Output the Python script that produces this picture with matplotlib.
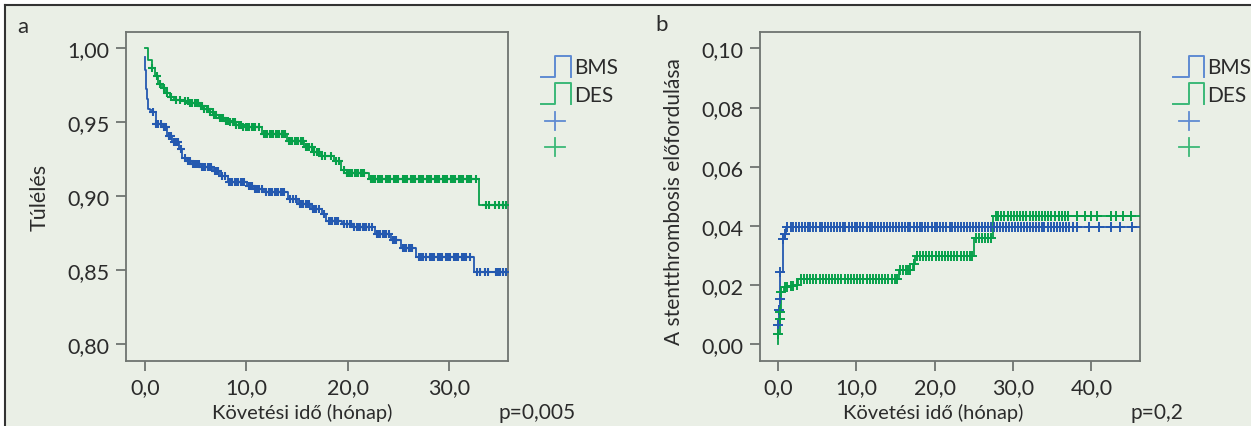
import numpy as np
import matplotlib.pyplot as plt
from matplotlib.lines import Line2D
from matplotlib.patches import Rectangle
from matplotlib.ticker import FuncFormatter

plt.rcParams['font.family'] = ['Lato', 'DejaVu Sans']

# ---- panel a: survival (Kaplan-Meier) ----
bms_a_t = [0, 0.05, 0.1, 0.2, 0.3, 0.5, 0.75, 1.05, 1.7, 2.2, 2.7, 3.4, 3.7, 4.1, 4.5,
           5.4, 6.7, 7.4, 8.2, 10.1, 10.7, 11.7, 14.1, 15.1, 16.4, 17.5, 17.9, 19.4,
           20.4, 22.7, 24.3, 25.2, 26.7, 32.4]
bms_a_s = [0.994, 0.985, 0.9725, 0.966, 0.959, 0.958, 0.9567, 0.9488, 0.9466, 0.941,
           0.9364, 0.932, 0.926, 0.924, 0.9217, 0.9195, 0.917, 0.9138, 0.9093, 0.907,
           0.9048, 0.9026, 0.898, 0.8947, 0.8913, 0.888, 0.8834, 0.881, 0.879, 0.8744,
           0.8705, 0.865, 0.859, 0.8484]
des_a_t = [0, 0.3, 0.66, 1.0, 1.3, 1.7, 2.1, 2.5, 2.9, 3.7, 4.4, 5.3, 5.8, 6.3, 6.8,
           7.3, 7.8, 8.3, 9.0, 9.6, 11.5, 14.0, 15.7, 16.5, 17.3, 18.6, 19.3, 19.9,
           22.1, 32.9]
des_a_s = [1.000, 0.992, 0.9865, 0.981, 0.976, 0.973, 0.970, 0.967, 0.965, 0.964,
           0.963, 0.961, 0.959, 0.957, 0.955, 0.953, 0.951, 0.950, 0.948, 0.9466,
           0.942, 0.9375, 0.933, 0.930, 0.927, 0.924, 0.918, 0.9156, 0.9116, 0.894]
bms_a_cens = [0.8, 1.1, 1.3, 1.6, 1.9, 2.1, 2.4, 2.6, 2.9, 3.1, 3.3, 3.6, 3.9, 4.2, 4.4,
              4.7, 5.0, 5.3, 5.6, 5.9, 6.2, 6.5, 6.9, 7.2, 7.6, 7.9, 8.3, 8.6, 8.9, 9.2,
              9.5, 9.8, 10.3, 10.6, 10.9, 11.2, 11.5, 11.9, 12.2, 12.5, 12.8, 13.1, 13.4,
              13.7, 14.3, 14.6, 14.9, 15.3, 15.6, 15.9, 16.2, 16.6, 16.9, 17.2, 17.7,
              18.1, 18.4, 18.7, 19.0, 19.6, 19.9, 20.2, 20.6, 20.9, 21.2, 21.5, 21.8,
              22.1, 22.4, 22.9, 23.2, 23.5, 23.8, 24.1, 24.5, 24.8, 25.4, 25.7, 26.0,
              26.3, 27.0, 27.4, 27.7, 28.1, 28.5, 28.9, 29.3, 29.7, 30.1, 30.5, 30.9,
              31.3, 31.7, 32.1, 32.7, 33.0, 33.5, 33.8, 34.6, 35.0, 35.3, 35.6,
              4.85, 5.15, 5.75, 6.35, 7.05, 8.45, 9.05, 9.65, 10.45, 11.05, 12.35, 12.95,
              13.55, 15.45, 16.05, 16.75, 18.25, 18.85, 20.35, 21.05, 21.65, 23.05,
              23.65, 24.65, 25.55, 26.15, 27.2, 28.3, 29.1, 29.9, 30.7, 31.5, 34.8]
des_a_cens = [0.7, 1.2, 1.5, 1.9, 2.2, 2.6, 3.1, 3.5, 3.9, 4.2, 4.6, 4.9, 5.2, 5.5, 5.8,
              6.1, 6.4, 6.7, 7.0, 7.4, 7.7, 8.0, 8.4, 8.7, 9.0, 9.3, 9.7, 10.0, 10.3,
              10.6, 10.9, 11.2, 11.7, 12.0, 12.3, 12.6, 12.9, 13.2, 13.5, 13.8, 14.2,
              14.5, 14.8, 15.1, 15.4, 15.9, 16.2, 16.7, 17.0, 17.5, 17.8, 18.3, 18.8,
              19.1, 19.6, 20.1, 20.4, 20.7, 21.0, 21.3, 21.6, 22.3, 22.7, 23.0, 23.4,
              23.8, 24.2, 24.6, 25.0, 25.4, 25.8, 26.2, 26.6, 27.0, 27.4, 27.8, 28.2,
              28.6, 29.0, 29.4, 29.8, 30.2, 30.6, 31.0, 31.4, 31.8, 32.2, 32.6, 33.6,
              33.9, 34.5, 34.9, 35.3, 35.6,
              4.45, 5.05, 5.65, 6.25, 6.85, 7.55, 8.15, 8.85, 9.45, 10.15, 10.75,
              11.85, 12.45, 13.05, 13.65, 14.35, 14.95, 15.55, 16.05, 16.45, 17.2,
              19.9, 20.25, 20.85, 21.45, 22.5, 23.2, 24.0, 24.8, 25.6, 26.4, 27.2,
              28.0, 28.8, 29.6, 30.4, 31.2, 32.0]
a_end = 35.75

# ---- panel b: cumulative stent thrombosis ----
bms_b_t = [0, 0.05, 0.1, 0.2, 0.3, 0.6, 0.85, 1.05]
bms_b_s = [0.0036, 0.0064, 0.0115, 0.0154, 0.0244, 0.0357, 0.0373, 0.0398]
des_b_t = [0, 0.05, 0.2, 0.3, 0.4, 0.7, 1.5, 2.2, 2.6, 15.4, 17.2, 17.5, 25.0, 27.5]
des_b_s = [0.0, 0.0036, 0.0087, 0.011, 0.0177, 0.0193, 0.0196, 0.0199, 0.0222, 0.025,
           0.0272, 0.030, 0.0359, 0.0433]
bms_b_cens = [0.05, 0.1, 0.2, 0.3, 0.6, 0.85, 1.2, 1.6, 1.9, 2.3, 2.7, 3.0, 3.4, 3.8,
              4.1, 4.5, 4.9, 5.3, 5.6, 6.0, 6.4, 6.8, 7.1, 7.5, 7.9, 8.3, 8.6, 9.0, 9.4,
              9.8, 10.1, 10.5, 10.9, 11.3, 11.7, 12.0, 12.4, 12.8, 13.2, 13.5, 13.9,
              14.3, 14.7, 15.0, 15.4, 15.8, 16.2, 16.6, 16.9, 17.3, 17.7, 18.1, 18.4,
              18.8, 19.2, 19.6, 20.0, 20.3, 20.7, 21.1, 21.5, 21.9, 22.2, 22.6, 23.0,
              23.4, 23.8, 24.1, 24.5, 24.9, 25.3, 25.7, 26.0, 26.4, 26.8, 27.2, 27.6,
              27.9, 28.3, 28.7, 29.1, 29.5, 29.8, 30.2, 30.6, 31.0, 31.4, 31.8, 32.1,
              32.5, 32.9, 33.3, 33.7, 34.0, 34.4, 34.8, 35.2, 35.6, 36.0, 36.4, 36.8,
              37.2, 37.7, 38.2, 39.7, 41.0, 42.5, 43.7, 45.2]
des_b_cens = [0.05, 0.2, 0.3, 0.4, 0.9, 1.2, 1.6, 1.9, 2.4, 2.9, 3.3, 3.7, 4.1, 4.5,
              4.9, 5.3, 5.7, 6.1, 6.5, 6.9, 7.3, 7.7, 8.1, 8.5, 8.9, 9.3, 9.7, 10.1,
              10.5, 10.9, 11.3, 11.7, 12.1, 12.5, 12.9, 13.3, 13.7, 14.1, 14.5, 14.9,
              15.2, 15.6, 15.9, 16.3, 16.6, 16.9, 17.35, 17.8, 18.1, 18.5, 18.9, 19.3,
              19.7, 20.1, 20.5, 20.9, 21.3, 21.7, 22.1, 22.5, 22.9, 23.3, 23.7, 24.1,
              24.5, 24.8, 25.3, 25.6, 26.0, 26.4, 26.8, 27.2, 27.8, 28.1, 28.5, 28.9,
              29.3, 29.7, 30.1, 30.5, 30.9, 31.3, 31.7, 32.1, 32.5, 32.9, 33.3, 33.7,
              34.1, 34.5, 34.9, 35.3, 35.8, 36.2, 36.6, 37.0, 38.2, 39.2, 39.9, 40.7,
              42.5, 43.2, 44.0, 45.0]
b_end = 46.2

labels = ['BMS', 'DES']
blue, green = '#2459b0', '#07a04a'
blue_leg, green_leg = '#5f8bd2', '#3bb877'
bg = '#eaefe6'
txt = '#2b2b2b'
spine_c = '#6f7470'

W, H = 1251, 427
fig = plt.figure(figsize=(W / 100, H / 100), dpi=100, facecolor='white')


def fx(x):
    return x / W


def fy(y):
    return 1 - y / H


fig.patches.append(Rectangle((fx(5), 0), 1, fy(6), transform=fig.transFigure,
                             facecolor=bg, edgecolor='none', zorder=-10))
fig.add_artist(Line2D([fx(5), 1], [fy(6), fy(6)], color='#333333', lw=1.5))
fig.add_artist(Line2D([fx(5), fx(5)], [fy(6), 0], color='#333333', lw=1.5))


def km(ax, t, s, tend, cens, color, ms, mew):
    tt = np.append(t, tend)
    ss = np.append(s, s[-1])
    ax.step(tt, ss, where='post', color=color, lw=1.3, zorder=3)
    cens = np.sort(cens)
    idx = np.searchsorted(t, cens, side='right') - 1
    ax.plot(cens, np.asarray(s)[idx], ls='none', marker='+', color=color,
            ms=ms, mew=mew, zorder=4)


def style(ax, yfmt):
    ax.set_facecolor(bg)
    for sp in ax.spines.values():
        sp.set_color(spine_c)
        sp.set_linewidth(1.3)
    ax.tick_params(direction='out', length=7, width=1.3, color=spine_c,
                   labelcolor=txt, labelsize=15.5, pad=5)
    ax.xaxis.set_major_formatter(FuncFormatter(lambda v, p: f'{v:.1f}'.replace('.', ',')))
    ax.yaxis.set_major_formatter(FuncFormatter(lambda v, p: yfmt.format(v).replace('.', ',')))


def legend(x0, x1, x2):
    for (yb, yt, c, lab) in [(78, 57, blue_leg, labels[0]), (105, 84, green_leg, labels[1])]:
        fig.add_artist(Line2D([fx(x0), fx(x1), fx(x1), fx(x2), fx(x2)],
                              [fy(yb), fy(yb), fy(yt), fy(yt), fy(yb)], color=c, lw=1.4))
        fig.text(fx(x2 + 3), fy((yb + yt) / 2 + 1), lab, fontsize=15, color=txt,
                 va='center', ha='left')
    for (yc, c) in [(122, blue_leg), (148, green_leg)]:
        fig.add_artist(Line2D([fx(x1 - 10), fx(x1 + 10)], [fy(yc), fy(yc)], color=c, lw=1.3))
        fig.add_artist(Line2D([fx(x1), fx(x1)], [fy(yc - 9), fy(yc + 9)], color=c, lw=1.3))


# panel a
axa = fig.add_axes([fx(126), fy(361.7), fx(507.7 - 126), (361.7 - 33.3) / H])
km(axa, bms_a_t, bms_a_s, a_end, bms_a_cens, blue, 6, 1.5)
km(axa, des_a_t, des_a_s, a_end, des_a_cens, green, 6, 1.5)
axa.set_xlim(-1.87, 35.77)
axa.set_ylim(0.7887, 1.0108)
axa.set_xticks([0, 10, 20, 30])
axa.set_yticks([0.80, 0.85, 0.90, 0.95, 1.00])
style(axa, '{:.2f}')

# panel b
axb = fig.add_axes([fx(760), fy(361.7), fx(1140 - 760), (361.7 - 32.7) / H])
km(axb, bms_b_t, bms_b_s, b_end, bms_b_cens, blue, 6.5, 1.4)
km(axb, des_b_t, des_b_s, b_end, des_b_cens, green, 6.5, 1.4)
axb.set_xlim(-2.3, 46.2)
axb.set_ylim(-0.0055, 0.1056)
axb.set_xticks([0, 10, 20, 30, 40])
axb.set_yticks([0.00, 0.02, 0.04, 0.06, 0.08, 0.10])
style(axb, '{:.2f}')

legend(541, 555, 571)
legend(1173, 1189, 1204)

fig.text(fx(17), fy(27), 'a', fontsize=16, color=txt, ha='left', va='center')
fig.text(fx(655), fy(25), 'b', fontsize=16, color=txt, ha='left', va='center')
fig.text(fx(40), fy(197), 'Túlélés', fontsize=15.5, color=txt, rotation=90,
         ha='center', va='center')
fig.text(fx(674), fy(202), 'A stentthrombosis előfordulása', fontsize=15, color=txt,
         rotation=90, ha='center', va='center')
fig.text(fx(302), fy(413), 'Követési idő (hónap)', fontsize=14.5, color=txt,
         ha='center', va='center')
fig.text(fx(933), fy(413), 'Követési idő (hónap)', fontsize=14.5, color=txt,
         ha='center', va='center')
fig.text(fx(498), fy(413), 'p=0,005', fontsize=15, color=txt, ha='left', va='center')
fig.text(fx(1130), fy(413), 'p=0,2', fontsize=15, color=txt, ha='left', va='center')

fig.savefig('out.png', dpi=100, facecolor='white')
